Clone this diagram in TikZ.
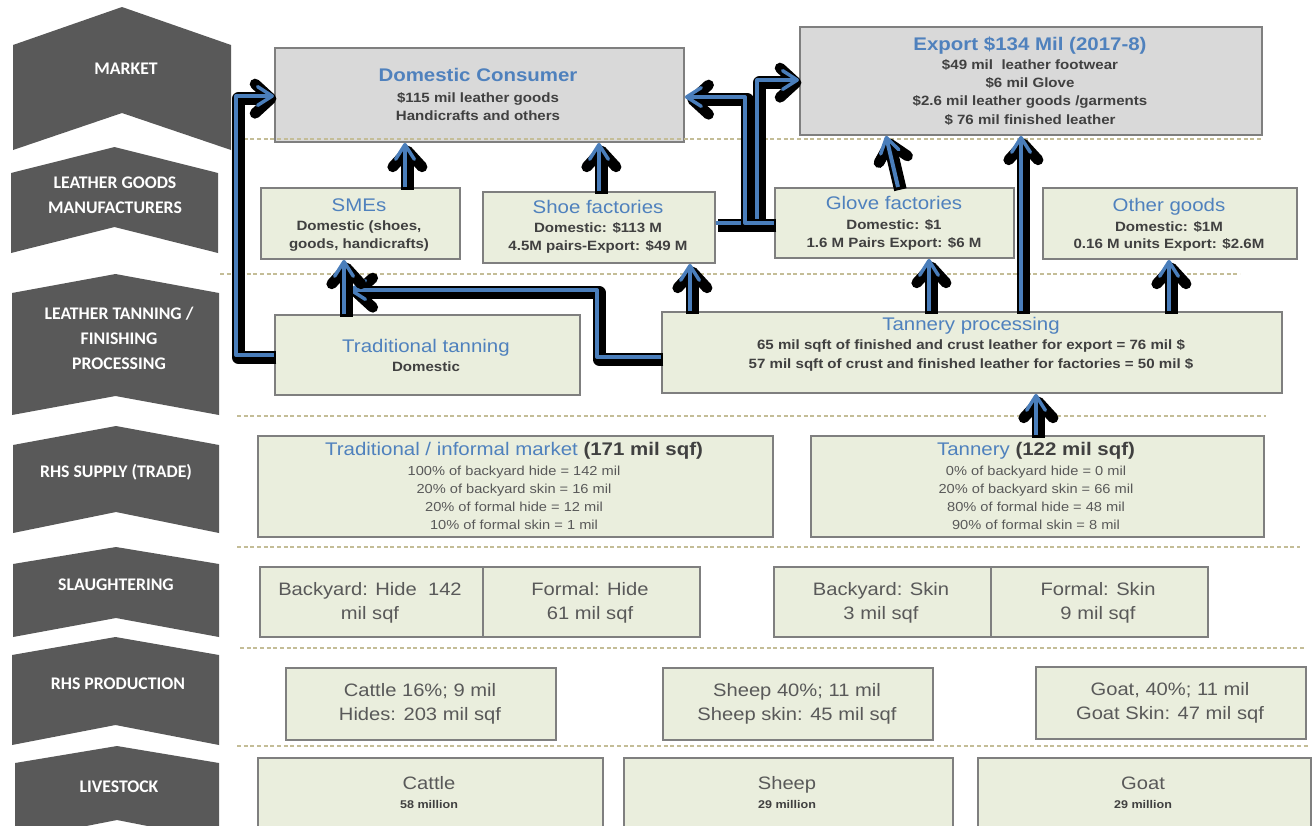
\documentclass[tikz,border=0pt]{standalone}
\usepackage{fontspec}
\setmainfont{Liberation Sans}[FakeStretch=1.12]
\newfontfamily\labfont{Carlito}
\usetikzlibrary{arrows.meta}
\definecolor{chev}{HTML}{595959}
\definecolor{boxfill}{HTML}{EAEEDD}
\definecolor{boxline}{HTML}{7F7F7F}
\definecolor{dcfill}{HTML}{D9D9D9}
\definecolor{tblue}{HTML}{4F81BD}
\definecolor{flowblue}{HTML}{4A7EBB}
\definecolor{tdark}{HTML}{404040}
\definecolor{tgray}{HTML}{595959}
\definecolor{sepcol}{HTML}{C4BD97}
\newcommand\bx[6]{\node[#6, anchor=north west, minimum width={(#4-#2)*0.75pt}, minimum height={(#5-#3)*0.75pt}] (#1) at (#2,#3) {};}
\newcommand\chevshape[6]{\fill[chev] (#1,#4) -- ({(#1+#2)/2},#3) -- (#2,#4) -- (#2,#5) -- ({(#1+#2)/2},#6) -- (#1,#5) -- cycle;}
\begin{document}
\begin{tikzpicture}[x=0.75pt,y=-0.75pt,
  box/.style={draw=boxline, fill=boxfill, line width=1.4pt, inner sep=0pt},
  gbox/.style={box, fill=dcfill},
  ttlb/.style={inner sep=0pt, text height=10pt, text depth=3pt, text=tblue, font=\fontsize{13.7}{16}\selectfont\bfseries},
  ttl/.style={inner sep=0pt, text height=10pt, text depth=3pt, text=tblue, font=\fontsize{13.7}{16}\selectfont},
  sb/.style={inner sep=0pt, text height=7.5pt, text depth=2.2pt, text=tdark, font=\fontsize{10.1}{12}\selectfont\bfseries},
  big/.style={inner sep=0pt, text height=10pt, text depth=3pt, text=tgray, font=\fontsize{13.5}{16}\selectfont},
  sup/.style={inner sep=0pt, text height=7.3pt, text depth=2.1pt, text=tgray, font=\fontsize{9.8}{12}\selectfont},
  lsb/.style={inner sep=0pt, text height=6.2pt, text depth=1.8pt, text=tdark, font=\fontsize{8.4}{10}\selectfont\bfseries},
  lab/.style={inner sep=0pt, text=white, align=center, font=\labfont\bfseries\fontsize{13.3}{18.8}\selectfont},
  sep/.style={draw=sepcol, line width=0.8pt, dash pattern=on 3pt off 2pt},
  flow/.style={draw=flowblue, line width=3pt, line join=round,
    -{Straight Barb[length=11pt,width=14pt,line width=2.6pt,round]},
    preaction={draw=black, line width=9.5pt, line join=round,
      -{Straight Barb[length=12pt,width=22pt,line width=8pt,round]},
      transform canvas={shift={(1.8pt,-2pt)}}}}
]
\clip (0,0) rectangle (1313,825);

% ---- left chevrons
\chevshape{13}{231}{7}{45}{150}{113}
\chevshape{11}{218}{147}{173}{253}{227}
\chevshape{12}{219}{274}{293}{415}{396}
\chevshape{13}{219}{426}{445}{533}{512}
\chevshape{13}{219}{547}{564}{637}{618}
\chevshape{12}{219}{637}{655}{745}{725}
\chevshape{15}{219}{746}{763}{840}{820}
\node[lab] (l-market) at (126,69) {MARKET};
\node[lab] (l-goods) at (115,195) {LEATHER GOODS\\MANUFACTURERS};
\node[lab] (l-tan) at (119,338) {LEATHER TANNING /\\FINISHING\\PROCESSING};
\node[lab] (l-supply) at (116,472) {RHS SUPPLY (TRADE)};
\node[lab] (l-slaughter) at (116,585) {SLAUGHTERING};
\node[lab] (l-prod) at (118,684) {RHS PRODUCTION};
\node[lab] (l-live) at (119,787) {LIVESTOCK};

% ---- boxes
\bx{dc}{274}{47}{683}{141}{gbox}
\bx{ex}{799}{26}{1261}{134}{gbox}
\bx{sme}{260}{187}{459}{258}{box}
\bx{shoe}{482}{191}{714}{262}{box}
\bx{glove}{774}{187}{1013}{257}{box}
\bx{other}{1042}{187}{1296}{258}{box}
\bx{tt}{274}{314}{579}{394}{box}
\bx{tp}{661}{311}{1281}{392}{box}
\bx{inf}{257}{435}{772}{536}{box}
\bx{tan}{810}{435}{1263}{536}{box}
\bx{s1}{259}{566}{482}{636}{box}
\bx{s2}{482}{566}{699}{636}{box}
\bx{s3}{773}{566}{990}{636}{box}
\bx{s4}{990}{566}{1207}{636}{box}
\bx{p1}{285}{667}{555}{739}{box}
\bx{p2}{662}{667}{932}{739}{box}
\bx{p3}{1035}{666}{1305}{738}{box}
\bx{v1}{257}{757}{602}{840}{box}
\bx{v2}{623}{757}{952}{840}{box}
\bx{v3}{977}{757}{1310}{840}{box}

% ---- texts
\node[ttlb] (dc-a) at (478,77) {Domestic Consumer};
\node[sb] (dc-b) at (478,99) {\$115 mil leather goods};
\node[sb] (dc-c) at (478,117) {Handicrafts and others};
\node[ttlb] (ex-a) at (1030,46) {Export \$134 Mil (2017-8)};
\node[sb] (ex-b) at (1030,66) {\$49 mil\ \ leather footwear};
\node[sb] (ex-c) at (1030,84) {\$6 mil Glove};
\node[sb] (ex-d) at (1030,102) {\$2.6 mil leather goods /garments};
\node[sb] (ex-e) at (1030,121) {\$ 76 mil finished leather};
\node[ttl] (sme-a) at (359,207) {SMEs};
\node[sb] (sme-b) at (359,227) {Domestic (shoes,};
\node[sb] (sme-c) at (359,245) {goods, handicrafts)};
\node[ttl] (shoe-a) at (598,209) {Shoe factories};
\node[sb] (shoe-b) at (598,229) {Domestic: \$113 M};
\node[sb] (shoe-c) at (598,247) {4.5M pairs-Export: \$49 M};
\node[ttl] (glove-a) at (894,205) {Glove factories};
\node[sb] (glove-b) at (894,226) {Domestic: \$1};
\node[sb] (glove-c) at (894,244) {1.6 M Pairs Export: \$6 M};
\node[ttl] (other-a) at (1169,207) {Other goods};
\node[sb] (other-b) at (1169,228) {Domestic: \$1M};
\node[sb] (other-c) at (1169,245) {0.16 M units Export: \$2.6M};
\node[ttl] (tt-a) at (426,348) {Traditional tanning};
\node[sb] (tt-b) at (426,368) {Domestic};
\node[ttl] (tp-a) at (971,326) {Tannery processing};
\node[sb] (tp-b) at (971,346) {65 mil sqft of finished and crust leather for export = 76 mil \$};
\node[sb] (tp-c) at (971,365) {57 mil sqft of crust and finished leather for factories = 50 mil \$};
\node[ttl] (inf-a) at (514,451) {Traditional / informal market \textcolor{tdark}{\bfseries(171 mil sqf)}};
\node[sup] (inf-b) at (514,472) {100\% of backyard hide = 142 mil};
\node[sup] (inf-c) at (514,490) {20\% of backyard skin = 16 mil};
\node[sup] (inf-d) at (514,508) {20\% of formal hide = 12 mil};
\node[sup] (inf-e) at (514,526) {10\% of formal skin = 1 mil};
\node[ttl] (tan-a) at (1036,451) {Tannery \textcolor{tdark}{\bfseries(122 mil sqf)}};
\node[sup] (tan-b) at (1036,472) {0\% of backyard hide = 0 mil};
\node[sup] (tan-c) at (1036,490) {20\% of backyard skin = 66 mil};
\node[sup] (tan-d) at (1036,508) {80\% of formal hide = 48 mil};
\node[sup] (tan-e) at (1036,526) {90\% of formal skin = 8 mil};
\node[big] (s1-a) at (370,591) {Backyard: Hide\ \ 142};
\node[big] (s1-b) at (370,615) {mil sqf};
\node[big] (s2-a) at (590,591) {Formal: Hide};
\node[big] (s2-b) at (590,615) {61 mil sqf};
\node[big] (s3-a) at (881,591) {Backyard: Skin};
\node[big] (s3-b) at (881,615) {3 mil sqf};
\node[big] (s4-a) at (1098,591) {Formal: Skin};
\node[big] (s4-b) at (1098,615) {9 mil sqf};
\node[big] (p1-a) at (420,692) {Cattle 16\%; 9 mil};
\node[big] (p1-b) at (420,716) {Hides: 203 mil sqf};
\node[big] (p2-a) at (797,692) {Sheep 40\%; 11 mil};
\node[big] (p2-b) at (797,716) {Sheep skin: 45 mil sqf};
\node[big] (p3-a) at (1170,691) {Goat, 40\%; 11 mil};
\node[big] (p3-b) at (1170,715) {Goat Skin: 47 mil sqf};
\node[big] (v1-a) at (429,785) {Cattle};
\node[lsb] (v1-b) at (429,806) {58 million};
\node[big] (v2-a) at (787,785) {Sheep};
\node[lsb] (v2-b) at (787,806) {29 million};
\node[big] (v3-a) at (1143,785) {Goat};
\node[lsb] (v3-b) at (1143,806) {29 million};

% ---- separators
\draw[sep] (237,139) -- (1263,139);
\draw[sep] (220,274) -- (1240,274);
\draw[sep] (237,416) -- (1266,416);
\draw[sep] (237,547) -- (1300,547);
\draw[sep] (240,648) -- (1305,648);
\draw[sep] (237,746) -- (1310,746);

% ---- connectors
\coordinate (k1) at (405,0);
\coordinate (k2) at (599,0);
\coordinate (k3) at (1021,0);
\coordinate (k4) at (690,0);
\coordinate (k5) at (929,0);
\coordinate (k6) at (1169,0);
\coordinate (k7) at (344,0);
\coordinate (k8) at (1036,0);
\coordinate (g1) at (898,0);
\coordinate (g2) at (886,0);
\coordinate (hy) at (0,223);
\coordinate (b1) at (745,97);
\coordinate (b2) at (757,80);
\coordinate (b3) at (597,357);
\coordinate (b4) at (349,290);
\coordinate (b5) at (236,96);

\draw[flow] (tt.west) -| (b5) -- (dc.west |- b5);
\draw[flow] (tp.west |- b3) -- (b3) |- (b4);
\draw[flow] (tt.north -| k7) -- (sme.south -| k7);
\draw[flow] (sme.north -| k1) -- (dc.south -| k1);
\draw[flow] (shoe.north -| k2) -- (dc.south -| k2);
\draw[flow] (shoe.east |- hy) -| (b2) -- (ex.west |- b2);
\draw[flow] (glove.west |- hy) -| (b1) -- (dc.east |- b1);
\draw[flow] (glove.north -| g1) -- (ex.south -| g2);
\draw[flow] (tp.north -| k3) -- (ex.south -| k3);
\draw[flow] (tp.north -| k4) -- (shoe.south -| k4);
\draw[flow] (tp.north -| k5) -- (glove.south -| k5);
\draw[flow] (tp.north -| k6) -- (other.south -| k6);
\draw[flow] (tan.north -| k8) -- (tp.south -| k8);
\end{tikzpicture}
\end{document}
